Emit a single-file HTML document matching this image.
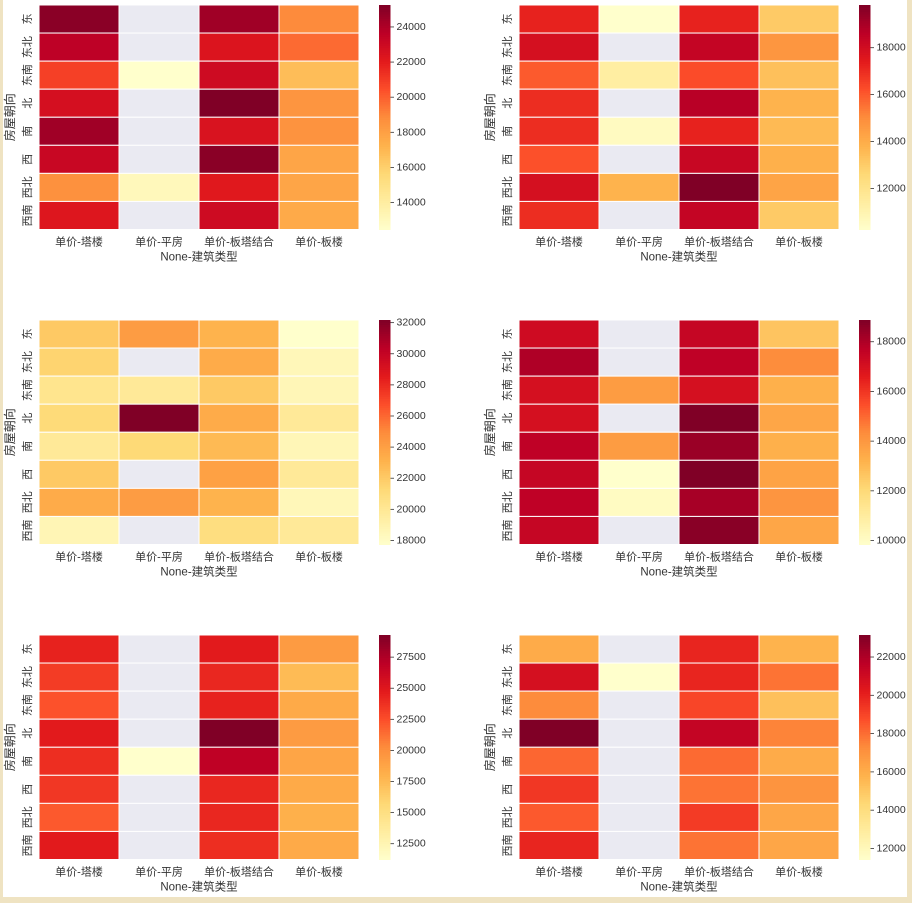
<!DOCTYPE html>
<html><head><meta charset="utf-8">
<style>
html,body{margin:0;padding:0;background:#efe3c2;}
#wrap{position:absolute;left:0;top:0;width:912px;height:903px;background:#efe3c2;}
#inner{position:absolute;left:3px;top:0;width:904px;height:897px;background:#fff;}
svg{position:absolute;left:0;top:0;}
text{font-family:"Liberation Sans","Noto Sans CJK SC",sans-serif;fill:#333;}
</style></head>
<body>
<div id="wrap"><div id="inner"></div>
<svg id="chart" width="912" height="903"></svg></div>
<script>
const rowsLabels = ["东","东北","东南","北","南","西","西北","西南"];
const colLabels = ["单价-塔楼","单价-平房","单价-板塔结合","单价-板楼"];
const N = null;
const values1 = [[25000,N,24400,18900],[23600,N,22400,19750],[20900,12466,23000,16800],[22700,N,25250,18500],[24400,N,22500,18600],[23200,N,25000,17800],[18700,13100,22200,17800],[22300,N,23000,17600]];
const values2 = [[17250,10250,17250,13100],[17900,N,18400,14750],[16000,11400,16300,13400],[17000,N,18700,13800],[17000,10550,17250,13600],[16200,N,18300,13900],[17900,13800,19820,14300],[17000,N,18400,13100]];
const values3 = [[22100,24200,23100,17740],[21600,N,23500,18500],[20300,19900,22100,18600],[21200,32170,23500,19900],[19900,21300,22800,18600],[22100,N,24000,19900],[23500,24200,23100,18500],[18700,N,20900,19900]];
const values4 = [[17250,N,17500,12700],[18000,N,17700,14350],[17050,13900,17050,13300],[17050,N,18875,13600],[17700,13900,18400,13300],[17500,9840,18875,13700],[17700,10100,18150,14100],[17500,N,18700,13600]];
const values5 = [[24400,N,24800,19400],[23300,N,24200,17500],[22400,N,24400,18500],[24800,N,29280,19400],[23900,11230,26900,18800],[23500,N,24200,18500],[22100,N,24200,18100],[24800,N,23900,18500]];
const values6 = [[16100,N,19900,15800],[20800,11424,19900,17900],[17300,N,19000,15300],[23150,N,21400,17500],[18200,N,18100,16100],[19400,N,17900,17000],[18500,N,19300,16300],[19900,N,17900,16300]];
const ticks1 = [14000,16000,18000,20000,22000,24000];
const ticks2 = [12000,14000,16000,18000];
const ticks3 = [18000,20000,22000,24000,26000,28000,30000,32000];
const ticks4 = [10000,12000,14000,16000,18000];
const ticks5 = [12500,15000,17500,20000,22500,25000,27500];
const ticks6 = [12000,14000,16000,18000,20000,22000];

const stops=["#ffffcc","#ffeda0","#fed976","#feb24c","#fd8d3c","#fc4e2a","#e31a1c","#bd0026","#800026"];
function hx(c){return [1,3,5].map(i=>parseInt(c.substr(i,2),16));}
const sr=stops.map(hx);
function cmap(t){t=Math.max(0,Math.min(1,t));const p=t*8;const i=Math.min(7,Math.floor(p));const f=p-i;
 const a=sr[i],b=sr[i+1];return "rgb("+a.map((v,k)=>Math.round(v+(b[k]-v)*f)).join(",")+")";}
const NS="http://www.w3.org/2000/svg";
const svg=document.getElementById('chart');
function el(tag,attrs,parent){const e=document.createElementNS(NS,tag);for(const k in attrs)e.setAttribute(k,attrs[k]);(parent||svg).appendChild(e);return e;}

const panels=[[values1,ticks1,39,5],[values2,ticks2,519,5],[values3,ticks3,39,320],[values4,ticks4,519,320],[values5,ticks5,39,635],[values6,ticks6,519,635]];
panels.forEach((p,pi)=>{
 const [vals,ticks,x0,y0]=p;const W=320,H=224.5;
 const flat=vals.flat().filter(v=>v!==null);const vmin=Math.min(...flat),vmax=Math.max(...flat);
 const g=el('g',{});
 
 
 const cw=W/colLabels.length,ch=H/rowsLabels.length;
 const xs=c=>x0+c*cw, ys=r=>y0+r*ch;
 vals.forEach((row,r)=>row.forEach((v,c)=>{
  const rc=el('rect',{x:xs(c),y:ys(r),width:cw,height:ch,fill:v===null?"#eaeaf2":cmap((v-vmin)/(vmax-vmin)),stroke:"#fff","stroke-width":1},g);
  
  
 }));
 rowsLabels.forEach((l,r)=>{const cx=x0-11,cy=ys(r)+ch/2;
  const t=el('text',{x:cx,y:cy,transform:`rotate(-90 ${cx} ${cy})`,"text-anchor":"middle","dominant-baseline":"central","font-size":"11"},g);t.textContent=l;
  
  });
 colLabels.forEach((l,c)=>{const t=el('text',{x:xs(c)+cw/2,y:y0+H+16,"text-anchor":"middle","font-size":"11"},g);t.textContent=l;
  
  });
 const xl=el('text',{x:x0+W/2,y:y0+H+31,"text-anchor":"middle","font-size":"11.5"},g);xl.textContent="None-建筑类型";
 
 
 const yx=x0-29,yy=y0+H/2;
 const yl=el('text',{x:yx,y:yy,transform:`rotate(-90 ${yx} ${yy})`,"text-anchor":"middle","dominant-baseline":"central","font-size":"12"},g);yl.textContent="房屋朝向";
 
 
 const bx=x0+W+20,bw=11.5;const cb=el('g',{},g);
 
 
 const nS=100;for(let i=0;i<nS;i++){el('rect',{x:bx,y:y0+H-(i+1)*H/nS,width:bw,height:H/nS+0.5,fill:cmap((i+0.5)/nS)},cb);}
 const cy=v=>y0+H-(v-vmin)/(vmax-vmin)*H;
 ticks.forEach(tv=>{const yy2=cy(tv);if(yy2<y0-1||yy2>y0+H+1)return;
  el('line',{x1:bx+bw,x2:bx+bw+3.5,y1:yy2,y2:yy2,stroke:"#333","stroke-width":0.8},cb);
  const t=el('text',{x:bx+bw+6,y:yy2,"dominant-baseline":"central","font-size":"10.5"},cb);t.textContent=tv;
  
  });
});
</script>
</body></html>
